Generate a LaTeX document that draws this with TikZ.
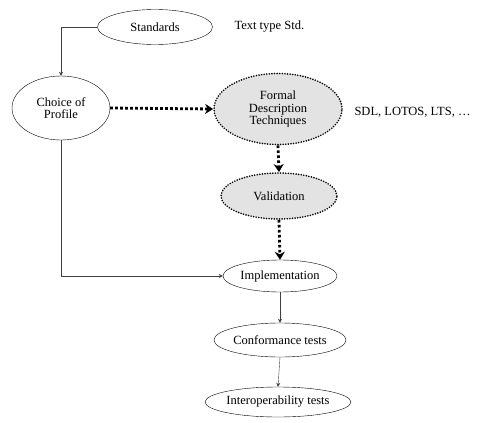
\documentclass[tikz,border=0pt]{standalone}
\usepackage{fontspec}
\setmainfont{Liberation Serif}
\usetikzlibrary{shapes.geometric,arrows.meta}

\tikzset{
    plain/.style={draw, ellipse, inner sep=0pt, thin},
    formal/.style={ellipse, inner sep=0pt, fill=gray!22, draw, line width=1.8pt,
        dash pattern=on 0pt off 2.6pt, line cap=round},
    flow/.style={-{Stealth[length=4pt,width=4pt]}, thin, draw=black!75},
    heavy/.style={-{Stealth[length=8pt,width=10pt,inset=2.5pt]}, line width=2.8pt,
        dash pattern=on 2.6pt off 2.4pt}
}

\begin{document}
\begin{tikzpicture}[x=1pt, y=-1pt, font=\fontsize{12.5}{12.5}\selectfont]
        \useasboundingbox (0, 0) rectangle (490, 423);

        \node[plain, minimum width=115pt, minimum height=35pt] (std) at (155, 27) {Standards};
        \node[plain, minimum width=98pt, minimum height=64pt, align=center] (choice) at (61, 108) {Choice of\\Profile};
        \node[formal, minimum width=128pt, minimum height=71pt, align=center] (fdt) at (278, 109) {Formal\\Description\\Techniques};
        \node[formal, minimum width=116pt, minimum height=46pt] (valid) at (279, 196) {Validation};
        \node[plain, minimum width=114pt, minimum height=32pt] (impl) at (280, 276) {Implementation};
        \node[plain, minimum width=112pt, minimum height=34pt] (conf) at (280, 340) {Conformance tests};
        \node[plain, minimum width=114pt, minimum height=30pt] (interop) at (278, 402) {Interoperability tests};

        \node[anchor=west] (stdtext) at (231, 27) {Text type Std.};
        \node[anchor=west] (fdttext) at (351, 112) {SDL, LOTOS, LTS, \dots};

        \draw[flow] (std.west) -| (choice.north);
        \draw[flow] (choice.south) |- (impl.west);
        \draw[flow] (impl.south) -- (conf.north);
        \draw[flow] (conf.south) -- (interop.north);

        \draw[heavy] (choice.east) -- (fdt.west);
        \draw[heavy] (fdt.south) -- (valid.north);
        \draw[heavy] (valid.south) -- (impl.north);
    \end{tikzpicture}
\end{document}
